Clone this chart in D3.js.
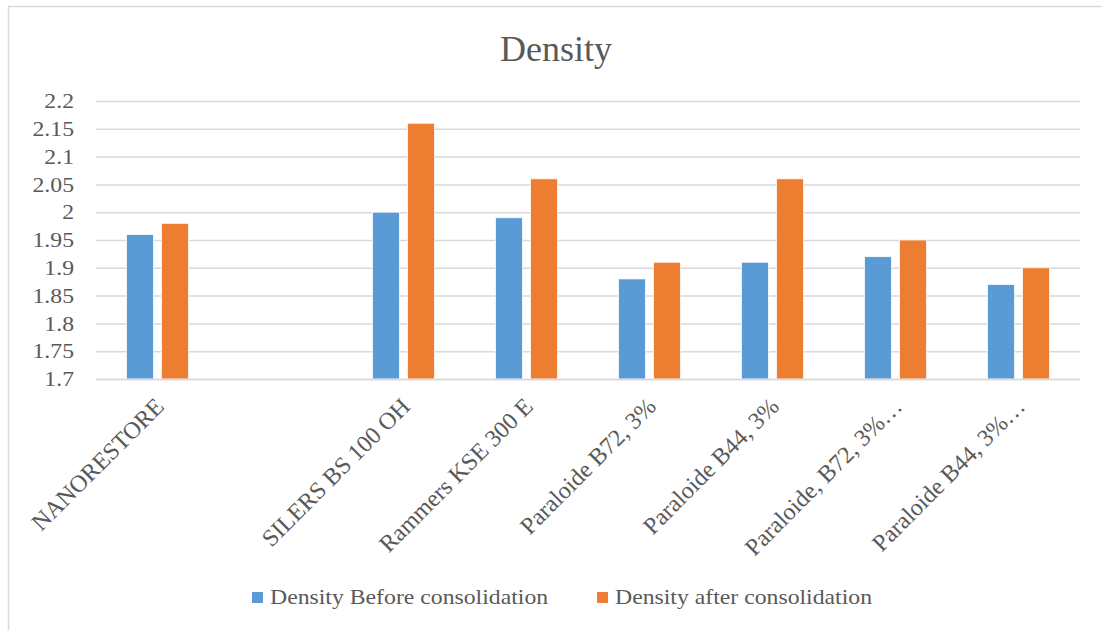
<!DOCTYPE html>
<html>
<head>
<meta charset="utf-8">
<script src="https://cdn.jsdelivr.net/npm/d3@7"></script>
<style>
  html, body { margin: 0; padding: 0; background: #fff; }
  text { font-family: "Liberation Serif", "Times New Roman", serif; fill: #595959; }
</style>
</head>
<body>
<svg id="chart" width="1102" height="630"></svg>
<script>
const categories = ["NANORESTORE", "", "SILERS BS 100 OH", "Rammers KSE 300 E", "Paraloide B72, 3%", "Paraloide B44, 3%", "Paraloide, B72, 3%…", "Paraloide B44, 3%…"];
const seriesNames = ["Density Before consolidation", "Density after consolidation"];
const before = [1.96, null, 2.00, 1.99, 1.88, 1.91, 1.92, 1.87];
const after  = [1.98, null, 2.16, 2.06, 1.91, 2.06, 1.95, 1.90];
const yTicks = [1.7, 1.75, 1.8, 1.85, 1.9, 1.95, 2, 2.05, 2.1, 2.15, 2.2];
const colors = ["#5b9bd5", "#ed7d31"];

const STRETCH = 1.13;
function widen(sel) {
  sel.each(function () {
    const w = this.getComputedTextLength();
    d3.select(this).attr("textLength", w * STRETCH).attr("lengthAdjust", "spacingAndGlyphs");
  });
}

const svg = d3.select("#chart");
// chart frame
svg.append("rect").attr("x", 8.5).attr("y", 6.5).attr("width", 1200).attr("height", 700)
  .attr("fill", "none").attr("stroke", "#d9d9d9").attr("stroke-width", 1.5);

const pLeft = 96, pRight = 1080, pTop = 101, pBottom = 379;
const x = d3.scaleBand().domain(d3.range(categories.length)).range([pLeft, pRight]);
const xs = d3.scaleBand().domain([0, 1]).range([0, x.bandwidth()]).paddingInner(0.23).paddingOuter(0.87);
const y = d3.scaleLinear().domain([1.7, 2.2]).range([pBottom, pTop]);

// gridlines + y labels
const yAxis = d3.axisLeft(y).tickValues(yTicks).tickSize(-(pRight - pLeft)).tickPadding(22)
  .tickFormat(d => String(+d.toFixed(2)));
const gy = svg.append("g").attr("transform", `translate(${pLeft},0)`).call(yAxis);
gy.select(".domain").remove();
gy.selectAll(".tick line").attr("stroke", "#d9d9d9").attr("stroke-width", 1.5);
gy.selectAll(".tick text").attr("font-size", "21px").attr("fill", "#595959")
  .attr("font-family", "Liberation Serif").call(widen);

// bars
const data = [before, after];
data.forEach((vals, si) => {
  svg.append("g").selectAll("rect").data(vals.map((v, i) => ({v, i})).filter(d => d.v != null))
    .enter().append("rect")
    .attr("x", d => x(d.i) + xs(si))
    .attr("width", xs.bandwidth())
    .attr("y", d => y(d.v))
    .attr("height", d => y(1.7) - y(d.v))
    .attr("fill", colors[si])
    .attr("stroke", "#fff").attr("stroke-width", 0.75);
});

// x axis line
svg.append("line").attr("x1", pLeft).attr("x2", pRight).attr("y1", pBottom + 0.5).attr("y2", pBottom + 0.5)
  .attr("stroke", "#d9d9d9").attr("stroke-width", 1.5);

// category labels
svg.append("g").selectAll("text").data(categories).enter().append("text")
  .attr("transform", (d, i) => `translate(${x(i) + x.bandwidth() / 2 + 2},402) rotate(-45)`)
  .attr("text-anchor", "end").attr("dy", "0.35em")
  .attr("font-size", "24px")
  .text(d => d);

// title
svg.append("text").attr("x", 556).attr("y", 61).attr("text-anchor", "middle")
  .attr("font-size", "36px").text("Density");

// legend
const legX = [252, 597];
seriesNames.forEach((n, i) => {
  svg.append("rect").attr("x", legX[i]).attr("y", 592).attr("width", 11).attr("height", 11).attr("fill", colors[i]);
  svg.append("text").attr("x", legX[i] + 18).attr("y", 604).attr("font-size", "21px").text(n).call(widen);
});
</script>
</body>
</html>
